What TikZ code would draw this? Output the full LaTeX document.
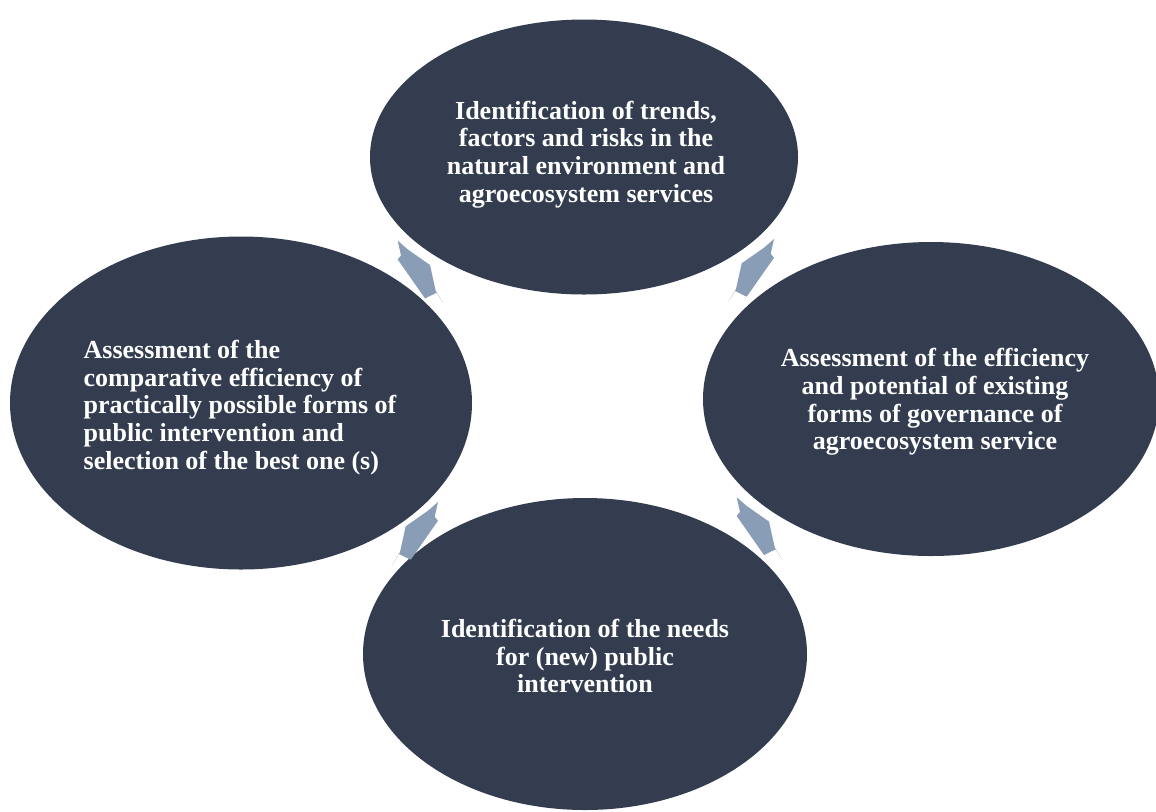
\documentclass[tikz,border=0pt]{standalone}
\usepackage{fontspec}
\setmainfont{Liberation Serif}
\usetikzlibrary{shapes.geometric}

\definecolor{slate}{HTML}{333D4F}
\definecolor{steel}{HTML}{8A9DB7}

\tikzset{
  stage/.style = {ellipse, fill=slate, inner sep=0pt},
  stagetext/.style = {text=white, inner sep=0pt, align=center,
                      font=\bfseries\fontsize{13}{13.9}\selectfont},
  % small chevron piece between two stages
  cyclearrow/.pic = {
    \fill[steel] (0,0) -- (10,8.7) -- (32.3,24.3) -- (38,50) -- (45.7,62.7)
                 -- (39,52) -- (27.3,57.7) -- (0,18.7) -- (3.3,14.7) -- cycle;
  }
}

\begin{document}
\begin{tikzpicture}[x=0.5pt,y=-0.5pt]
  \useasboundingbox (0,0) rectangle (1156,811);
  \clip (0,0) rectangle (1156,811);

  % the four stages of the cycle
  \node[stage, minimum width=214pt, minimum height=137.5pt] (trends) at (584,157) {};
  \node[stage, minimum width=228pt, minimum height=157pt] (governance) at (931,399) {};
  \node[stage, minimum width=222pt, minimum height=156pt] (needs) at (585,654) {};
  \node[stage, minimum width=231pt, minimum height=166.5pt] (selection) at (241,403) {};

  \node[stagetext] (trendstext) at (586,154.5)
    {Identification of trends,\\ factors and risks in the\\ natural environment and\\ agroecosystem services};
  \node[stagetext] (governancetext) at (935,402)
    {Assessment of the efficiency\\ and potential of existing\\ forms of governance of\\ agroecosystem service};
  \node[stagetext] (needstext) at (585,656)
    {Identification of the needs\\ for (new) public\\ intervention};
  \node[stagetext, align=left] (selectiontext) at (240,407.5)
    {Assessment of the\\ comparative efficiency of\\ practically possible forms of\\ public intervention and\\ selection of the best one (s)};

  % arrows between the stages
  \pic at (397.7,240.7) {cyclearrow};
  \pic[xscale=-1] at (774,239) {cyclearrow};
  \pic at (736.7,497.3) {cyclearrow};
  \pic[xscale=-1] at (438,502) {cyclearrow};
\end{tikzpicture}
\end{document}
